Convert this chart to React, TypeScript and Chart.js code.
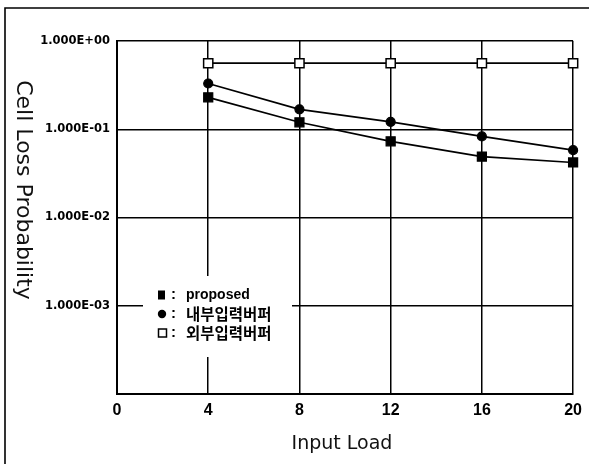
import React, { useEffect, useRef } from "react";
import { Chart, registerables } from "chart.js";

Chart.register(...registerables);

const xValues = [4, 8, 12, 16, 20];
const proposed = [0.23, 0.12, 0.073, 0.049, 0.042];
const innerBuffer = [0.33, 0.168, 0.121, 0.083, 0.058];
const outerBuffer = [0.56, 0.56, 0.56, 0.56, 0.56];

const xTickValues = [0, 4, 8, 12, 16, 20];
const yTickValues = [1e-4, 1e-3, 1e-2, 1e-1, 1];
const yTickLabels = ["", "1.000E-03", "1.000E-02", "1.000E-01", "1.000E+00"];

const legendLabels = ["proposed", "내부입력버퍼", "외부입력버퍼"];
const xTitle = "Input Load";
const yTitle = "Cell Loss Probability";

const W = 589;
const H = 464;

const decorPlugin = {
  id: "decor",
  beforeDraw(chart: any) {
    const ctx = chart.ctx;
    ctx.save();
    ctx.fillStyle = "#fff";
    ctx.fillRect(0, 0, W, H);
    ctx.strokeStyle = "#000";
    ctx.lineWidth = 1.6;
    ctx.beginPath();
    ctx.moveTo(5, H + 2);
    ctx.lineTo(5, 8);
    ctx.lineTo(W + 2, 8);
    ctx.stroke();
    ctx.restore();
  },
  afterDraw(chart: any) {
    const ctx = chart.ctx;
    ctx.save();
    // axis titles
    ctx.fillStyle = "#111";
    ctx.font = "22px 'DejaVu Sans'";
    ctx.textAlign = "center";
    ctx.textBaseline = "alphabetic";
    ctx.save();
    ctx.translate(17, 190);
    ctx.rotate(Math.PI / 2);
    ctx.fillText(yTitle, 0, 0);
    ctx.restore();
    ctx.font = "19px 'DejaVu Sans'";
    ctx.fillText(xTitle, 342, 449);

    // legend
    ctx.fillStyle = "#fff";
    ctx.fillRect(143, 276, 149, 81);
    const rows = [295, 314, 333];
    ctx.fillStyle = "#000";
    ctx.strokeStyle = "#000";
    // marker 1: filled square
    ctx.fillRect(158, rows[0] - 4.5, 7, 9);
    // marker 2: filled circle
    ctx.beginPath();
    ctx.arc(162, rows[1], 4.2, 0, Math.PI * 2);
    ctx.fill();
    // marker 3: open square
    ctx.lineWidth = 1.5;
    ctx.strokeRect(158.5, rows[2] - 4, 8, 8);
    ctx.textAlign = "left";
    ctx.textBaseline = "middle";
    rows.forEach((y, i) => {
      ctx.font = "bold 15px 'Liberation Sans'";
      ctx.fillText(":", 171, y);
      ctx.font =
        i === 0
          ? "bold 14px 'Liberation Sans'"
          : "bold 15.5px 'Noto Sans CJK KR'";
      ctx.fillText(legendLabels[i], 186, y);
    });
    ctx.restore();
  },
};

export default function App() {
  const ref = useRef<HTMLCanvasElement | null>(null);
  useEffect(() => {
    if (!ref.current) return;
    const common = {
      borderColor: "#000",
      borderWidth: 1.7,
      pointBorderColor: "#000",
      pointBorderWidth: 1.2,
      tension: 0,
      clip: false,
    };
    const chart = new Chart(ref.current, {
      type: "line",
      data: {
        datasets: [
          {
            ...common,
            label: legendLabels[2],
            data: xValues.map((x, i) => ({ x, y: outerBuffer[i] })),
            pointStyle: "rect",
            pointRadius: 6.5,
            pointBackgroundColor: "#fff",
            pointBorderWidth: 1.5,
          },
          {
            ...common,
            label: legendLabels[1],
            data: xValues.map((x, i) => ({ x, y: innerBuffer[i] })),
            pointStyle: "circle",
            pointRadius: 4.5,
            pointBackgroundColor: "#000",
          },
          {
            ...common,
            label: legendLabels[0],
            data: xValues.map((x, i) => ({ x, y: proposed[i] })),
            pointStyle: "rect",
            pointRadius: 6.4,
            pointBackgroundColor: "#000",
          },
        ],
      },
      options: {
        animation: false,
        responsive: false,
        layout: { padding: { top: 41, right: 15, left: 0, bottom: 0 } },
        plugins: { legend: { display: false }, tooltip: { enabled: false } },
        scales: {
          x: {
            type: "linear",
            min: 0,
            max: 20,
            afterBuildTicks: (s: any) => {
              s.ticks = xTickValues.map((v) => ({ value: v }));
            },
            afterFit: (s: any) => {
              s.height = 70;
            },
            grid: { color: "#000", lineWidth: 1.5, drawTicks: false },
            border: { color: "#000", width: 2 },
            ticks: {
              color: "#000",
              padding: 7,
              maxRotation: 0,
              font: { family: "'Liberation Sans'", size: 16, weight: "bold" },
            },
          },
          y: {
            type: "logarithmic",
            min: 1e-4,
            max: 1,
            afterBuildTicks: (s: any) => {
              s.ticks = yTickValues.map((v) => ({ value: v }));
            },
            afterFit: (s: any) => {
              s.width = 117;
            },
            grid: { color: "#000", lineWidth: 1.5, drawTicks: false },
            border: { color: "#000", width: 2 },
            ticks: {
              color: "#000",
              padding: 7,
              autoSkip: false,
              font: { family: "'DejaVu Sans'", size: 11.5, weight: "bold" },
              callback: (v: any) => {
                const i = yTickValues.findIndex((t) => Math.abs(t - v) < t * 1e-6);
                return i >= 0 ? yTickLabels[i] : "";
              },
            },
          },
        },
      },
      plugins: [decorPlugin],
    } as any);
    return () => chart.destroy();
  }, []);
  return (
    <div style={{ position: "fixed", left: 0, top: 0, width: W, height: H }}>
      <canvas ref={ref} width={W} height={H} style={{ display: "block" }} />
    </div>
  );
}
